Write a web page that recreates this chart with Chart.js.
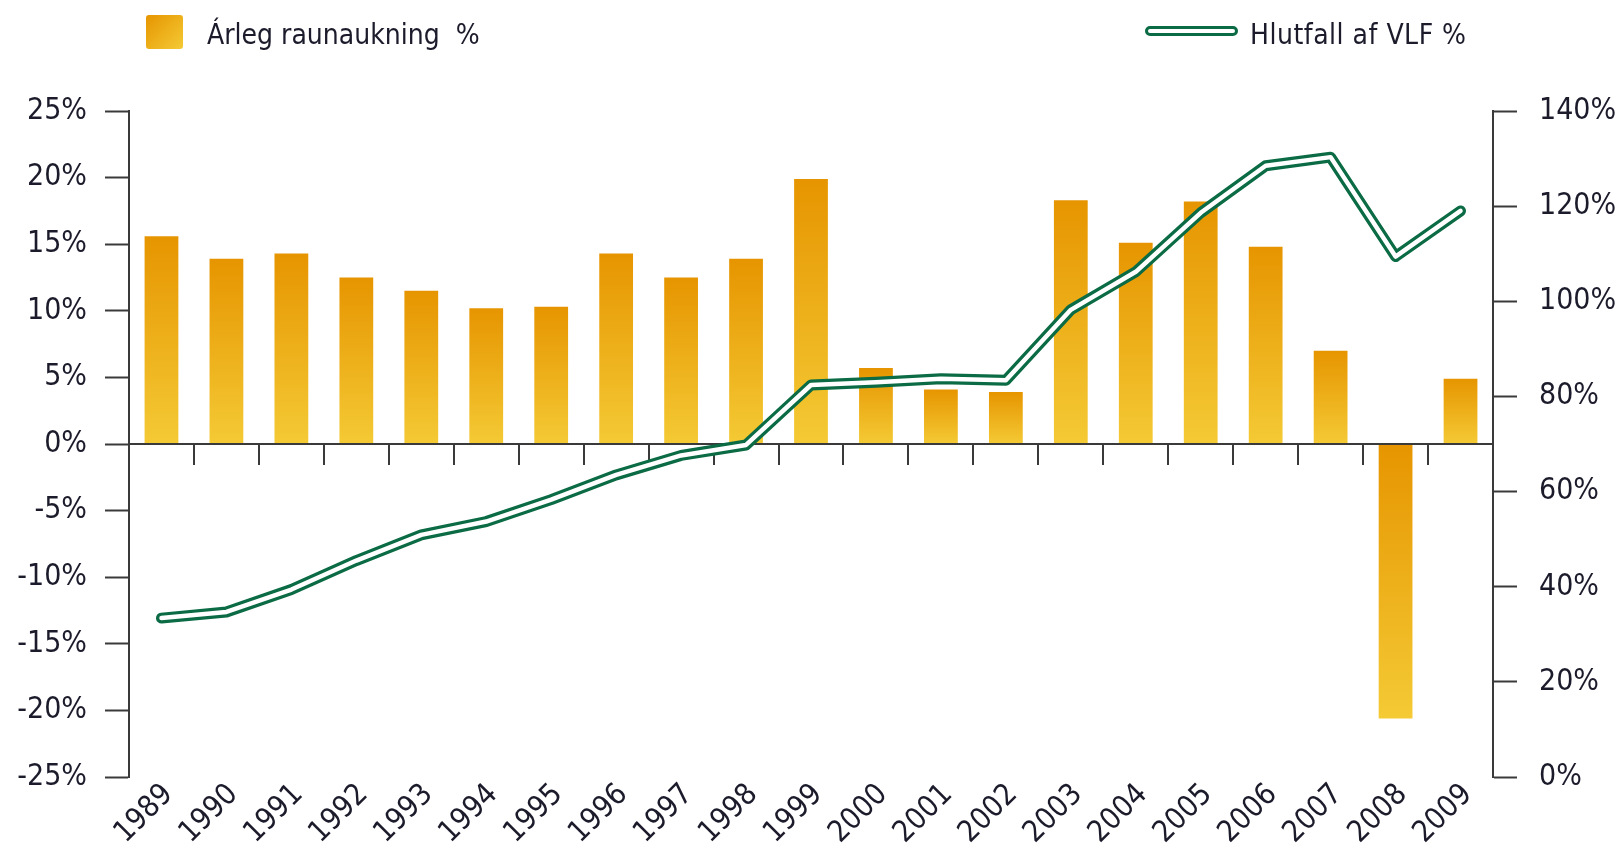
<!DOCTYPE html>
<html>
<head>
<meta charset="utf-8">
<script src="https://cdn.jsdelivr.net/npm/chart.js@4"></script>
<style>
  html, body { margin: 0; padding: 0; background: #fff; }
  #wrap { position: relative; width: 1621px; height: 850px; }
  .lg { position: absolute; font-family: 'DejaVu Sans Condensed', 'DejaVu Sans', sans-serif; font-size: 28px; color: #1b1b2b; white-space: pre; line-height: 34px; }
  .sw-bar { position: absolute; left: 146px; top: 15px; width: 37px; height: 34px; border-radius: 3px;
    background: linear-gradient(135deg, #E69500, #F4CA35); }
  .sw-line { position: absolute; left: 1145px; top: 26px; width: 87px; height: 4px; border: 3px solid #0b6b45; border-radius: 5px; background: #fff; }
</style>
</head>
<body>
<div id="wrap">
  <canvas id="chart" width="1621" height="850"></canvas>
  <div class="sw-bar"></div>
  <div class="lg" style="left:207px; top:18px;">Árleg raunaukning  %</div>
  <div class="sw-line"></div>
  <div class="lg" style="left:1250px; top:18px; letter-spacing:0.5px;">Hlutfall af VLF %</div>
</div>
<script>
// years on the x axis
const years = ["1989", "1990", "1991", "1992", "1993", "1994", "1995", "1996", "1997", "1998", "1999",
  "2000", "2001", "2002", "2003", "2004", "2005", "2006", "2007", "2008", "2009"];

// yearly real growth, % (left axis)
const raunaukning = [15.6, 13.9, 14.3, 12.5, 11.5, 10.2, 10.3, 14.3, 12.5, 13.9, 19.9,
  5.7, 4.1, 3.9, 18.3, 15.1, 18.2, 14.8, 7.0, -20.6, 4.9];

// ratio of GDP, % (right axis)
const hlutfall = [33.4, 34.7, 39.4, 45.5, 50.9, 53.7, 58.3, 63.5, 67.6, 69.8, 82.4,
  83.0, 83.7, 83.4, 98.2, 106.2, 118.6, 128.5, 130.3, 109.4, 119.0];

const FONT = "'DejaVu Sans Condensed', 'DejaVu Sans', sans-serif";
const INK = "#1b1b2b";
const AXIS = "#3a3a3a";

// bars fade from orange at the top to yellow at the bottom
function barGradient(ctx) {
  const chart = ctx.chart;
  const y = chart.scales.y;
  if (!y || ctx.type !== "data") return "#E69500";
  const p = y.getPixelForValue(ctx.raw);
  const p0 = y.getPixelForValue(0);
  const top = Math.min(p, p0), bot = Math.max(p, p0);
  if (!isFinite(top) || bot - top < 1) return "#E69500";
  const g = chart.ctx.createLinearGradient(0, top, 0, bot);
  g.addColorStop(0, "#E69500");
  g.addColorStop(1, "#F4CA35");
  return g;
}

// x axis line sits at 0% with ticks between the years
const zeroAxis = {
  id: "zeroAxis",
  afterDatasetDraw(chart, args) {
    if (args.meta.type !== "bar") return;
    const { ctx, chartArea, scales: { x, y } } = chart;
    const y0 = y.getPixelForValue(0);
    const step = x.getPixelForValue(1) - x.getPixelForValue(0);
    ctx.save();
    ctx.strokeStyle = AXIS;
    ctx.lineWidth = 2;
    ctx.beginPath();
    ctx.moveTo(chartArea.left, y0);
    ctx.lineTo(chartArea.right, y0);
    for (let i = 1; i < years.length; i++) {
      const bx = Math.round(x.getPixelForValue(i) - step / 2);
      ctx.moveTo(bx, y0);
      ctx.lineTo(bx, y0 + 21);
    }
    ctx.stroke();
    ctx.restore();
  },
};

new Chart(document.getElementById("chart"), {
  data: {
    labels: years,
    datasets: [
      {
        type: "line",
        label: "Hlutfall af VLF % (inner)",
        data: hlutfall,
        yAxisID: "y2",
        borderColor: "#ffffff",
        borderWidth: 4.5,
        pointRadius: 0,
        borderCapStyle: "round",
        borderJoinStyle: "round",
        tension: 0,
        order: 0,
      },
      {
        type: "line",
        label: "Hlutfall af VLF %",
        data: hlutfall,
        yAxisID: "y2",
        borderColor: "#0b6b45",
        borderWidth: 11,
        pointRadius: 0,
        borderCapStyle: "round",
        borderJoinStyle: "round",
        tension: 0,
        order: 1,
      },
      {
        type: "bar",
        label: "Árleg raunaukning %",
        data: raunaukning,
        yAxisID: "y",
        backgroundColor: barGradient,
        barPercentage: 0.52,
        categoryPercentage: 1,
        order: 2,
      },
    ],
  },
  options: {
    responsive: false,
    animation: false,
    layout: { padding: { top: 111, left: 0, right: 0, bottom: 0 } },
    plugins: {
      legend: { display: false },
      tooltip: { enabled: false },
    },
    scales: {
      x: {
        grid: { display: false },
        border: { display: false },
        ticks: {
          font: { family: FONT, size: 30 },
          color: INK,
          minRotation: 45,
          maxRotation: 45,
          padding: -8,
          labelOffset: 7,
        },
        afterFit: (s) => { s.height = 73; },
      },
      y: {
        position: "left",
        min: -25,
        max: 25,
        grid: { drawOnChartArea: false, tickLength: 24, tickColor: AXIS, tickWidth: 2 },
        border: { color: AXIS, width: 2 },
        ticks: {
          stepSize: 5,
          padding: 18,
          font: { family: FONT, size: 30 },
          color: INK,
          callback: (v) => v + "%",
        },
        afterFit: (s) => { s.width = 129; },
      },
      y2: {
        position: "right",
        min: 0,
        max: 140,
        grid: { drawOnChartArea: false, tickLength: 24, tickColor: AXIS, tickWidth: 2 },
        border: { color: AXIS, width: 2 },
        ticks: {
          stepSize: 20,
          padding: 22,
          font: { family: FONT, size: 30 },
          color: INK,
          callback: (v) => v + "%",
        },
        afterFit: (s) => { s.width = 128; },
      },
    },
  },
  plugins: [zeroAxis],
});
</script>
</body>
</html>
